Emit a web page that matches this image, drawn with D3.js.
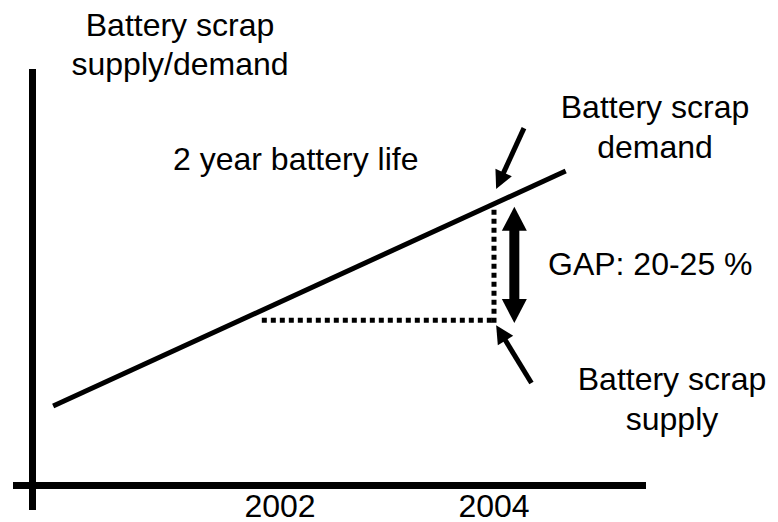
<!DOCTYPE html>
<html><head><meta charset="utf-8">
<script src="https://cdn.jsdelivr.net/npm/d3@7"></script>
<style>
html,body{margin:0;padding:0;background:#fff;}
svg{display:block;}
text{font-family:"Liberation Sans",Arial,Helvetica,sans-serif;fill:#000;}
</style></head>
<body>
<script>
// ---- data ----
const tickYears = [2002, 2004];
const tickLabels = ["2002", "2004"];
const demandYears = [1999.88, 2004.67];
const demandValues = [19.1, 75.5];
const supplyLevel = 39.7;          // scrap supply in 2004 (= demand two years earlier)
const supplyFromYear = 2001.83;
const gapYear = 2004;
const demandAtGap = 67.0;
const gapArrowYear = 2004.19;
const gapArrowValues = [66.9, 39.0];
const demandPointer = {from: [2004.28, 85.8], to: [2004.02, 71.2]};
const supplyPointer = {from: [2004.35, 24.6], to: [2004.02, 38.5]};
const titleLines = ["Battery scrap", "supply/demand"];
const demandLabel = ["Battery scrap", "demand"];
const supplyLabel = ["Battery scrap", "supply"];
const lifeLabel = "2 year battery life";
const gapLabel = "GAP: 20-25 %";

const W = 778, H = 522;
const svg = d3.select("body").append("svg").attr("width", W).attr("height", H);

const x = d3.scaleLinear().domain([2002, 2004]).range([280, 494]);
const y = d3.scaleLinear().domain([0, 100]).range([485.5, 69]);

const FS = 32;

// axes
const x0 = x.invert(13), x1 = x.invert(646);
svg.append("line").attr("x1", x(x0)).attr("x2", x(x1)).attr("y1", y(0)).attr("y2", y(0))
  .attr("stroke", "#000").attr("stroke-width", 7);
svg.append("line").attr("x1", 32.5).attr("x2", 32.5).attr("y1", y(100)).attr("y2", 510)
  .attr("stroke", "#000").attr("stroke-width", 7);

// tick labels
svg.selectAll("text.tick").data(tickYears).join("text").attr("class", "tick")
  .attr("x", d => x(d)).attr("y", 517).attr("text-anchor", "middle")
  .attr("font-size", FS).text((d, i) => tickLabels[i]);

// demand line
const pts = demandYears.map((d, i) => [x(d), y(demandValues[i])]);
svg.append("path").attr("d", d3.line()(pts)).attr("stroke", "#000").attr("stroke-width", 5).attr("fill", "none");

// dotted lines
const dotted = [
  [[x(supplyFromYear), y(supplyLevel)], [x(gapYear), y(supplyLevel)]],
  [[x(gapYear), y(supplyLevel) + 2.5], [x(gapYear), y(demandAtGap)]]
];
dotted.forEach(p => svg.append("path").attr("d", d3.line()(p)).attr("stroke", "#000")
  .attr("stroke-width", 5).attr("stroke-dasharray", "5,4").attr("fill", "none"));

// arrow helper
function arrow(from, to, shaftW, headL, headHW) {
  const dx = to[0] - from[0], dy = to[1] - from[1];
  const L = Math.hypot(dx, dy), ux = dx / L, uy = dy / L, nx = -uy, ny = ux;
  const bx = to[0] - ux * headL, by = to[1] - uy * headL;
  svg.append("line").attr("x1", from[0]).attr("y1", from[1]).attr("x2", bx + ux * 2).attr("y2", by + uy * 2)
    .attr("stroke", "#000").attr("stroke-width", shaftW);
  svg.append("path").attr("d", `M${to[0]},${to[1]}L${bx + nx * headHW},${by + ny * headHW}L${bx - nx * headHW},${by - ny * headHW}Z`)
    .attr("fill", "#000");
}
arrow([x(demandPointer.from[0]), y(demandPointer.from[1])], [x(demandPointer.to[0]), y(demandPointer.to[1])], 5, 18, 9);
arrow([x(supplyPointer.from[0]), y(supplyPointer.from[1])], [x(supplyPointer.to[0]), y(supplyPointer.to[1])], 5, 18, 9);

// double-headed gap arrow
(function () {
  const gx = x(gapArrowYear), top = y(gapArrowValues[0]), bot = y(gapArrowValues[1]);
  const hl = 24, hw = 12.5;
  svg.append("line").attr("x1", gx).attr("x2", gx).attr("y1", top + hl - 1).attr("y2", bot - hl + 1)
    .attr("stroke", "#000").attr("stroke-width", 10);
  svg.append("path").attr("d", `M${gx},${top}L${gx + hw},${top + hl}L${gx - hw},${top + hl}Z`).attr("fill", "#000");
  svg.append("path").attr("d", `M${gx},${bot}L${gx + hw},${bot - hl}L${gx - hw},${bot - hl}Z`).attr("fill", "#000");
})();

// texts
function block(lines, cx, y0, dy) {
  const t = svg.append("text").attr("text-anchor", "middle").attr("font-size", FS);
  lines.forEach((s, i) => t.append("tspan").attr("x", cx).attr("y", y0 + i * dy).text(s));
}
block(titleLines, 180, 36, 39);
block(demandLabel, 655, 118, 40);
block(supplyLabel, 672, 390, 40);
svg.append("text").attr("x", 173).attr("y", 170).attr("font-size", FS).text(lifeLabel);
svg.append("text").attr("x", 548).attr("y", 275).attr("font-size", FS).text(gapLabel);
</script>
</body></html>
